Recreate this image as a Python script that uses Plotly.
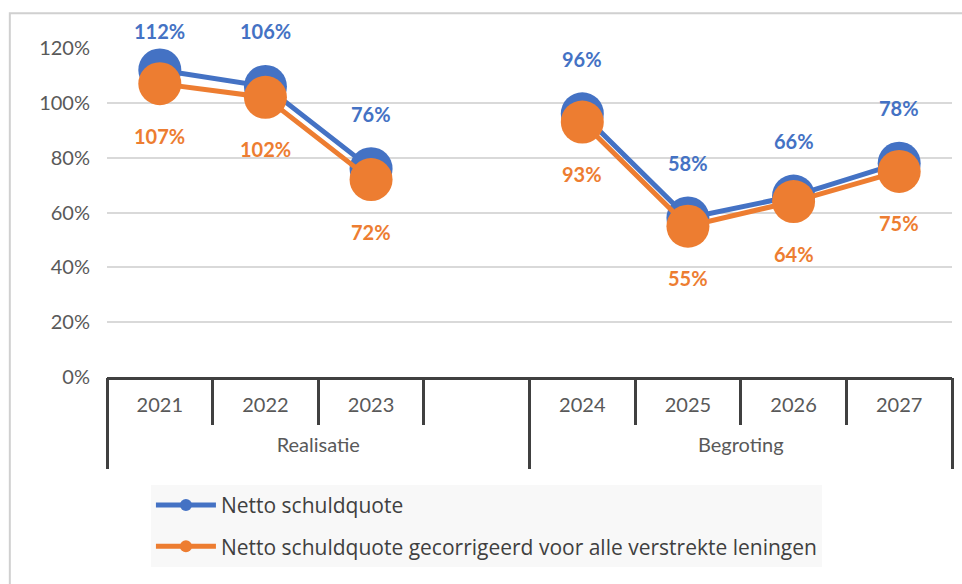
import plotly.graph_objects as go

# ---- data ----
groups = ["Realisatie"] * 4 + ["Begroting"] * 4
years = ["2021", "2022", "2023", " ", "2024", "2025", "2026", "2027"]
netto = [112, 106, 76, None, 96, 58, 66, 78]
gecorrigeerd = [107, 102, 72, None, 93, 55, 64, 75]
series_names = ["Netto schuldquote",
                "Netto schuldquote gecorrigeerd voor alle verstrekte leningen"]
y_ticks = [0, 20, 40, 60, 80, 100, 120]

BLUE = "#4472C4"
ORANGE = "#ED7D31"
DARK = "#404040"
GREY = "#595959"
FONT = "Lato"

fig = go.Figure()
for k, (vals, name, col) in enumerate([(netto, series_names[0], BLUE),
                                       (gecorrigeerd, series_names[1], ORANGE)]):
    fig.add_trace(go.Scatter(
        x=years, y=vals, name=name, mode="lines+markers",
        legendgroup=f"g{k}",
        line=dict(color=col, width=5),
        marker=dict(color=col, size=43),
        cliponaxis=False,
    ))

# helper trace that only defines the outer category level (groups)
group_names = list(dict.fromkeys(groups))
fig.add_trace(go.Scatter(x=group_names, y=[None] * len(group_names),
                         xaxis="x2", mode="markers", showlegend=False,
                         hoverinfo="skip"))

# data labels (blue above, orange below); x given as category index
PX_PER_UNIT = 329 / 120
annotations = []
for i, (a, b) in enumerate(zip(netto, gecorrigeerd)):
    if a is None:
        continue
    # keep the label inside the chart area (as Excel does)
    up = min(55, (120 - a) * PX_PER_UNIT + 17)
    annotations.append(dict(x=i, y=a, xref="x", yref="y", text=f"<b>{a}%</b>",
                            showarrow=False, yshift=up,
                            font=dict(color=BLUE, size=20, family=FONT)))
    annotations.append(dict(x=i, y=b, xref="x", yref="y", text=f"<b>{b}%</b>",
                            showarrow=False, yshift=-52,
                            font=dict(color=ORANGE, size=20, family=FONT)))

fig.update_layout(
    width=962, height=584,
    margin=dict(l=107, r=10, t=48, b=207),
    paper_bgcolor="white", plot_bgcolor="white",
    font=dict(family=FONT, size=20, color=GREY),
    showlegend=True,
    legend=dict(x=0.052, y=-0.328, xanchor="left", yanchor="top",
                bgcolor="#F8F8F8", font=dict(size=21, color=DARK, family="Open Sans"),
                tracegroupgap=11, itemsizing="constant", itemwidth=60),
    annotations=annotations,
    shapes=[dict(type="rect", xref="paper", yref="paper",
                 x0=-0.115, x1=1.2, y0=-1.0, y1=1.106,
                 line=dict(color="#D0D0D0", width=2), layer="below")],
    xaxis=dict(type="category", range=[-0.5, len(years) - 0.5],
               showline=True, linecolor=DARK, linewidth=3,
               ticks="outside", tickson="boundaries", ticklen=45,
               tickcolor=DARK, tickwidth=3, showgrid=False,
               ticklabelstandoff=8,
               tickfont=dict(size=20, color=GREY)),
    xaxis2=dict(overlaying="x", anchor="y", side="bottom", type="category",
                range=[-0.5, len(group_names) - 0.5],
                ticks="outside", tickson="boundaries", ticklen=91,
                tickcolor=DARK, tickwidth=3,
                showgrid=False, showline=False, zeroline=False,
                ticklabelstandoff=54,
                tickfont=dict(size=20, color=GREY)),
    yaxis=dict(range=[0, 120], tickvals=y_ticks,
               ticktext=[f"{v}%" for v in y_ticks],
               showgrid=True, gridcolor="#D9D9D9", gridwidth=1.5,
               zeroline=False, showline=False, ticks="",
               ticklabelstandoff=16,
               tickfont=dict(size=20, color=GREY)),
)

fig.write_html("out.html", config={"displayModeBar": False},
               post_script="document.body.style.margin='0';")
